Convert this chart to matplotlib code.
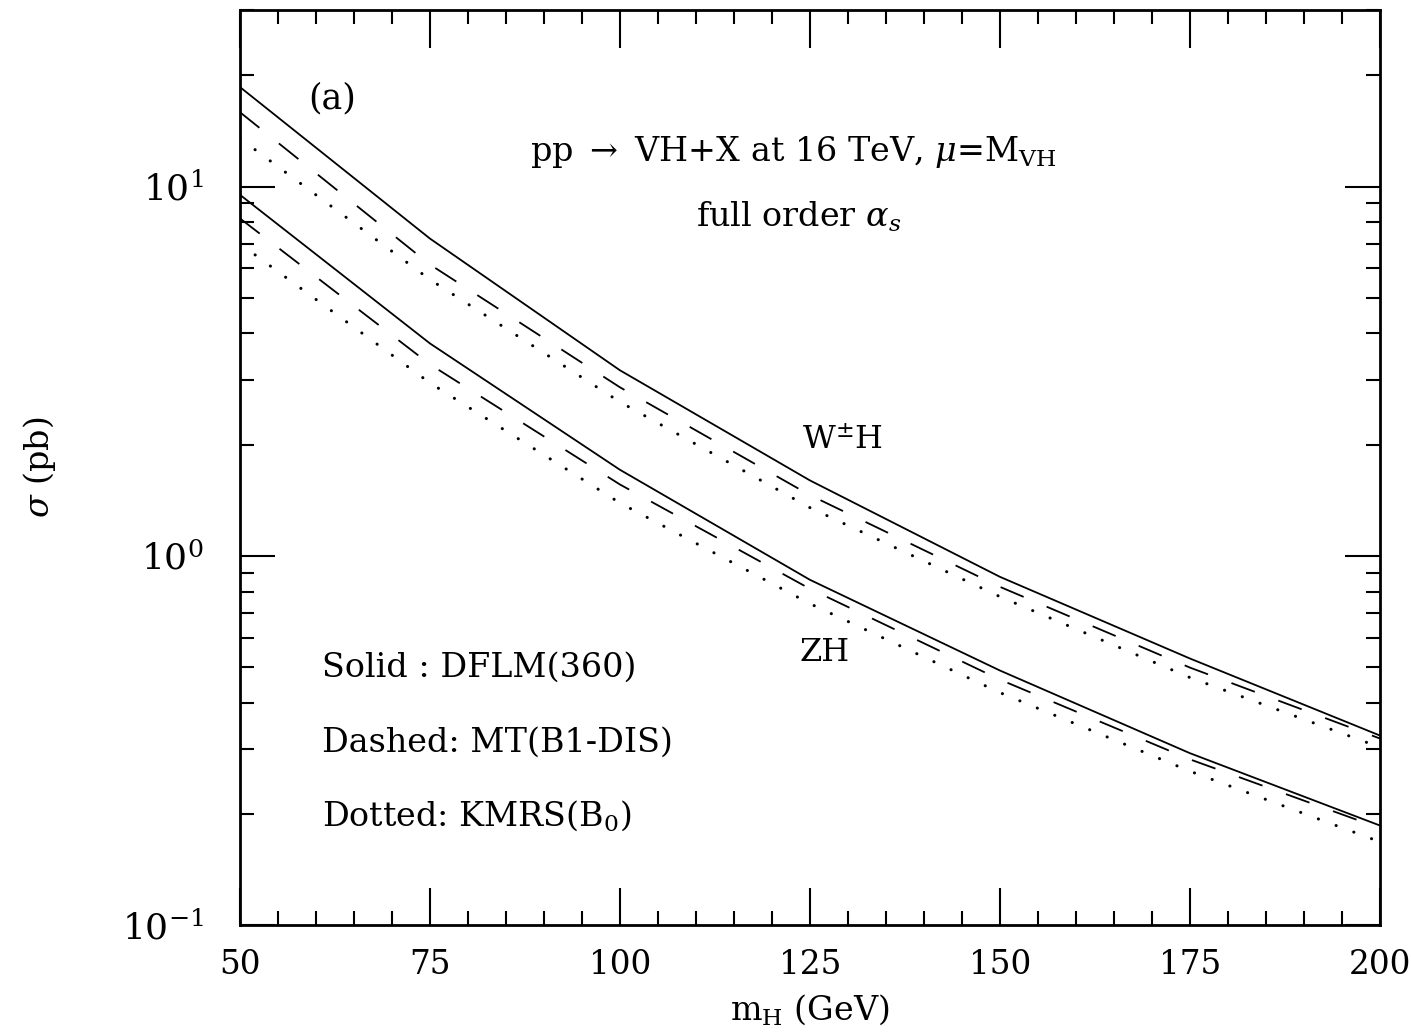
import matplotlib
matplotlib.use('Agg')
import matplotlib.pyplot as plt
from matplotlib.ticker import MultipleLocator, LogLocator, LogFormatterMathtext, NullFormatter

plt.rcParams.update({'font.family': 'DejaVu Serif', 'mathtext.fontset': 'dejavuserif',
                     'font.size': 24, 'lines.scale_dashes': False})

# Higgs mass (GeV)
m_h = [50, 75, 100, 125, 150, 175, 200]

# W+-H cross sections (pb)
wh_dflm = [18.6, 7.23, 3.18, 1.60, 0.877, 0.527, 0.326]
wh_mt = [15.9, 6.15, 2.86, 1.46, 0.824, 0.498, 0.320]
wh_kmrs = [13.5, 5.60, 2.61, 1.35, 0.775, 0.468, 0.303]

# ZH cross sections (pb)
zh_dflm = [9.5, 3.76, 1.71, 0.861, 0.489, 0.292, 0.186]
zh_mt = [8.2, 3.30, 1.56, 0.814, 0.462, 0.281, 0.183]
zh_kmrs = [7.0, 2.94, 1.39, 0.742, 0.426, 0.261, 0.168]

fig = plt.figure(figsize=(14.11, 10.33), dpi=100)
ax = fig.add_axes([0.170, 0.1045, 0.808, 0.8855])

solid = dict(color='black', lw=1.3, ls='-')
dashed = dict(color='black', lw=1.3, ls=(0, (18, 18)))
dotted = dict(color='black', lw=2.2, ls=(0, (0.1, 13.5)), dash_capstyle='round')

for dflm, mt, kmrs in [(wh_dflm, wh_mt, wh_kmrs), (zh_dflm, zh_mt, zh_kmrs)]:
    ax.plot(m_h, dflm, **solid)
    ax.plot(m_h, mt, **dashed)
    ax.plot(m_h, kmrs, **dotted)

ax.set_yscale('log')
ax.set_xlim(50, 200)
ax.set_ylim(0.1, 30)

ax.xaxis.set_major_locator(MultipleLocator(25))
ax.xaxis.set_minor_locator(MultipleLocator(5))
ax.yaxis.set_major_locator(LogLocator(base=10))
ax.yaxis.set_minor_locator(LogLocator(base=10, subs=range(2, 10)))
ax.yaxis.set_major_formatter(LogFormatterMathtext())
ax.yaxis.set_minor_formatter(NullFormatter())

ax.tick_params(which='both', direction='in', top=True, right=True, width=1.5, labelsize=23.5)
ax.tick_params(which='major', length=27, pad=17)
ax.tick_params(which='minor', length=10)
ax.tick_params(axis='y', which='major', length=25, pad=26, labelsize=26)
for s in ax.spines.values():
    s.set_linewidth(2)

ax.set_xlabel(r'm$_{\rm H}$ (GeV)', fontsize=24, labelpad=8)
ax.set_ylabel(r'$\sigma$ (pb)', fontsize=24, labelpad=46)

ax.text(62.1, 17.3, '(a)', fontsize=25, ha='center', va='center')
ax.text(0.485, 0.845, r'pp $\rightarrow$ VH+X at 16 TeV, $\mu$=M$_{\rm VH}$',
        transform=ax.transAxes, ha='center', va='center')
ax.text(0.490, 0.774, r'full order $\alpha_s$', transform=ax.transAxes,
        ha='center', va='center')
ax.text(124.0, 2.05, r'W$^{\pm}$H', fontsize=23, ha='left', va='center')
ax.text(123.6, 0.547, 'ZH', fontsize=23, ha='left', va='center')

ax.text(0.072, 0.281, 'Solid : DFLM(360)', transform=ax.transAxes, va='center')
ax.text(0.072, 0.199, 'Dashed: MT(B1-DIS)', transform=ax.transAxes, va='center')
ax.text(0.072, 0.120, r'Dotted: KMRS(B$_0$)', transform=ax.transAxes, va='center')

fig.savefig('out.png', dpi=100)
